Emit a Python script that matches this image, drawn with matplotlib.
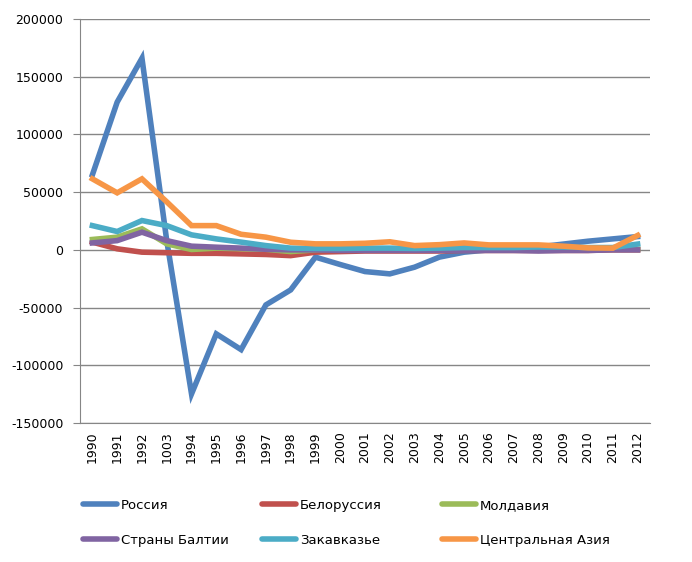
import matplotlib
matplotlib.use("Agg")
import matplotlib.pyplot as plt
from matplotlib.lines import Line2D

years = ["1990", "1991", "1992", "1003", "1994", "1995", "1996", "1997", "1998",
         "1999", "2000", "2001", "2002", "2003", "2004", "2005", "2006", "2007",
         "2008", "2009", "2010", "2011", "2012"]

russia = [65000, 128000, 166000, 8000, -124800, -72800, -86400, -47700, -34700,
          -6300, -12700, -18800, -20800, -15000, -6300, -2000, 0, 1500, 2500,
          5000, 7500, 9500, 11500]
belarus = [6700, 900, -2000, -2500, -3000, -3000, -3500, -4000, -5000, -2000,
           -1500, -1000, -1000, -1000, -1000, -500, -500, -500, -500, -500,
           -500, 0, 0]
moldova = [9000, 11000, 18200, 5200, 300, 1500, 1000, 500, -1500, 0, 500, 500,
           500, 500, 500, 500, 500, 500, 500, 500, 500, 500, 500]
baltic = [6000, 8000, 15300, 8000, 3200, 2300, 1500, 500, 0, 0, -500, -500,
          -500, -500, -500, -500, -500, -500, -1000, -500, -500, 0, 0]
transcaucasia = [21000, 15900, 25400, 21000, 13000, 9500, 6700, 3700, 1500,
                 1200, 1200, 1500, 1500, 1200, 1500, 2000, 2000, 2000, 2500,
                 2500, 2000, 2000, 5000]
central_asia = [61500, 49400, 61500, 41600, 21000, 21000, 13500, 11000, 6600,
                5200, 5200, 5700, 7000, 3700, 4500, 6000, 4300, 4300, 4300,
                3200, 1700, 1500, 12500]

names = ["Россия", "Белоруссия", "Молдавия", "Страны Балтии", "Закавказье",
         "Центральная Азия"]
series = [russia, belarus, moldova, baltic, transcaucasia, central_asia]
colors = ["#4F81BD", "#C0504D", "#9BBB59", "#8064A2", "#4BACC6", "#F79646"]

plt.rcParams['font.family'] = ['DejaVu Sans']
plt.rcParams['axes.unicode_minus'] = False

W, H = 692, 562
fig = plt.figure(figsize=(W / 100, H / 100), dpi=100)
ax = fig.add_axes([80 / W, 1 - 423 / H, 570 / W, 404 / H])

x = list(range(len(years)))
for vals, name, c in zip(series, names, colors):
    ax.plot(x, vals, color=c, lw=4, solid_joinstyle='miter', label=name)

ax.set_xlim(-0.5, len(years) - 0.5)
ax.set_ylim(-150000, 200000)
ax.set_yticks(range(-150000, 200001, 50000))
ax.set_xticks(x)
ax.set_xticklabels(years, rotation=90)
ax.tick_params(axis='x', length=0, pad=6, labelsize=9)
ax.tick_params(axis='y', length=5, color='#868686', pad=7, labelsize=9)
ax.yaxis.grid(True, color='#868686', lw=1)
ax.set_axisbelow(True)
for s in ['top', 'right']:
    ax.spines[s].set_visible(False)
for s in ['left', 'bottom']:
    ax.spines[s].set_color('#868686')

# legend drawn by hand: 2 rows x 3 columns
col_x = [83, 262, 442]
row_y = [504, 539]
for i, name in enumerate(names):
    cx = col_x[i % 3]
    cy = row_y[i // 3]
    fig.add_artist(Line2D([cx / W, (cx + 34) / W], [1 - cy / H, 1 - cy / H],
                          color=colors[i], lw=4, solid_capstyle='round',
                          transform=fig.transFigure))
    fig.text((cx + 38) / W, 1 - cy / H, name, fontsize=9.5,
             ha='left', va='center_baseline')

fig.savefig("out.png", dpi=100)
